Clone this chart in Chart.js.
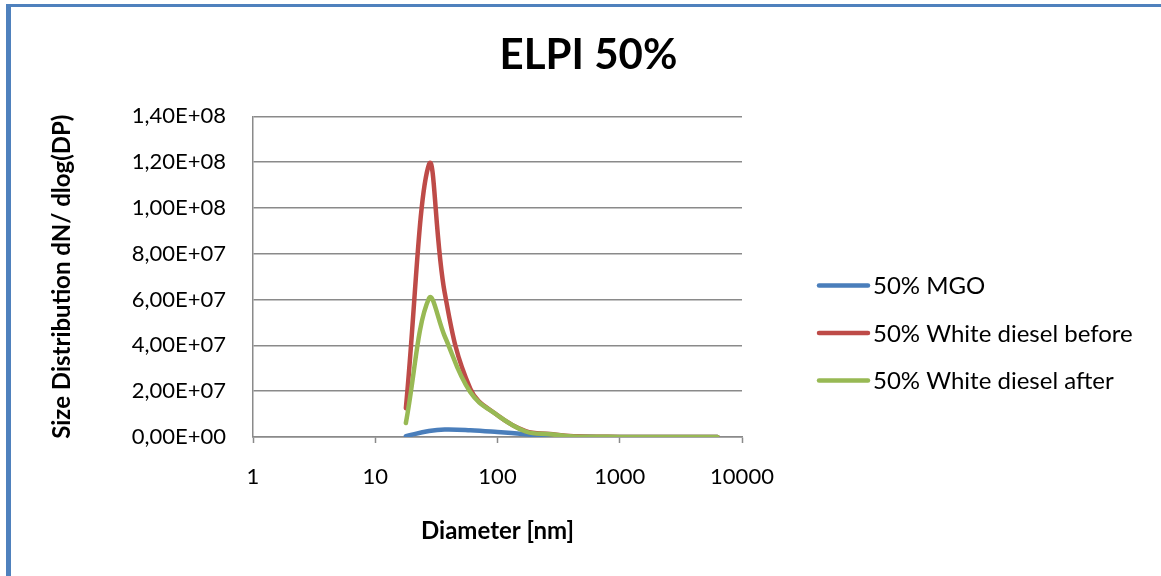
<!DOCTYPE html>
<html lang="en">

<head>
  <meta charset="UTF-8">
  <title>ELPI 50%</title>
  <script src="https://cdn.jsdelivr.net/npm/chart.js@4.4.1/dist/chart.umd.min.js"></script>
  <style>
    body {
      margin: 0;
      background: #fff;
    }

    .frame {
      position: relative;
      width: 1161px;
      height: 576px;
    }

    /* blue sheet border on the left and top */
    .frame .edge {
      position: absolute;
      left: 6px;
      top: 4px;
      right: 0;
      bottom: 0;
      border-left: 5px solid #4f81bd;
      border-top: 3px solid #4f81bd;
      pointer-events: none;
    }
  </style>
</head>

<body>
  <div class="frame">
    <canvas id="elpiChart" width="1161" height="576"></canvas>
    <div class="edge"></div>
  </div>

  <script>
    // particle diameter [nm]
    const diameters = [17.8, 27.5, 37, 60, 100, 170, 270, 420, 650, 1000, 1600, 2500, 4000, 6300];
    const seriesNames = ['50% MGO', '50% White diesel before', '50% White diesel after'];
    const mgo = [4e5, 2.6e6, 3.3e6, 3.0e6, 2.2e6, 1.2e6, 5e5, 1.5e5, 5e4, 2e4, 1e4, 5e3, 2e3, 1e3];
    const whiteBefore = [1.26e7, 1.19e8, 6.3e7, 2.1e7, 9.5e6, 2.6e6, 1.3e6, 3e5, 1e5, 5e4, 2e4, 1e4, 5e3, 2e3];
    const whiteAfter = [6.1e6, 6.05e7, 4.4e7, 1.95e7, 9.5e6, 2.4e6, 1.2e6, 2e5, 1e5, 5e4, 2e4, 1e4, 5e3, 2e3];
    const xTicks = [1, 10, 100, 1000, 10000];
    const colors = ['#4a7ebb', '#be4b48', '#98b954'];

    const gridGray = '#8a8a8a';

    // Excel-style scientific labels: 1,40E+08
    function sciLabel(v) {
      const parts = Number(v).toExponential(2).split('e');
      const e = parseInt(parts[1], 10);
      return parts[0].replace('.', ',') + 'E' + (e < 0 ? '-' : '+') + String(Math.abs(e)).padStart(2, '0');
    }

    // legend sits in its own box to the right of the plot
    const legendOpts = { width: 419, lineStart: 77, lineLen: 49, firstY: 169, step: 47.5, gap: 5, font: '24px Lato' };

    const sideLegend = {
      id: 'sideLegend',
      beforeInit(chart) {
        const box = {
          position: 'right',
          weight: 0,
          fullSize: false,
          options: {},
          left: 0, top: 0, right: 0, bottom: 0, width: 0, height: 0,
          isHorizontal() { return false; },
          update(maxWidth, maxHeight) {
            this.width = legendOpts.width;
            this.height = maxHeight;
          },
          draw() {
            const ctx = chart.ctx;
            ctx.save();
            ctx.font = legendOpts.font;
            ctx.textBaseline = 'middle';
            ctx.textAlign = 'left';
            chart.data.datasets.forEach((ds, i) => {
              const y = this.top + legendOpts.firstY + i * legendOpts.step;
              const x0 = this.left + legendOpts.lineStart;
              ctx.strokeStyle = ds.borderColor;
              ctx.lineWidth = ds.borderWidth;
              ctx.lineCap = 'round';
              ctx.beginPath();
              ctx.moveTo(x0, y);
              ctx.lineTo(x0 + legendOpts.lineLen, y);
              ctx.stroke();
              ctx.fillStyle = '#000';
              ctx.fillText(ds.label, x0 + legendOpts.lineLen + legendOpts.gap, y + 1);
            });
            ctx.restore();
          }
        };
        Chart.layouts.addBox(chart, box);
      }
    };

    Chart.defaults.font.family = 'Lato';
    Chart.defaults.color = '#000';

    const series = [mgo, whiteBefore, whiteAfter];

    new Chart(document.getElementById('elpiChart'), {
      type: 'line',
      data: {
        datasets: series.map((vals, i) => ({
          label: seriesNames[i],
          data: diameters.map((d, j) => ({ x: d, y: vals[j] })),
          borderColor: colors[i],
          backgroundColor: colors[i],
          borderWidth: 4.5,
          borderCapStyle: 'round',
          pointRadius: 0,
          tension: 0.4,
          order: 2 - i
        }))
      },
      options: {
        responsive: false,
        animation: false,
        layout: { padding: { left: 16, right: 0, top: 0, bottom: 0 } },
        plugins: {
          legend: { display: false },
          tooltip: { enabled: false },
          title: {
            display: true,
            text: 'ELPI 50%',
            color: '#000',
            font: { size: 42, weight: 'bold' },
            padding: { top: 30, bottom: 36 }
          }
        },
        scales: {
          x: {
            type: 'logarithmic',
            min: 1,
            max: 10000,
            afterBuildTicks: (s) => { s.ticks = xTicks.map(v => ({ value: v })); },
            afterFit: (s) => { s.height = 139; },
            ticks: {
              autoSkip: false,
              maxRotation: 0,
              padding: 21,
              font: { size: 22 },
              callback: (v) => String(v)
            },
            grid: {
              drawOnChartArea: false,
              drawTicks: true,
              tickLength: 6,
              tickColor: gridGray,
              tickWidth: 1.5
            },
            border: { color: gridGray, width: 1.5 },
            title: {
              display: true,
              text: 'Diameter [nm]',
              font: { size: 24, weight: 'bold' },
              padding: { top: 0, bottom: 30 }
            }
          },
          y: {
            min: 0,
            max: 1.4e8,
            afterFit: (s) => { s.width = 237; },
            ticks: {
              stepSize: 2e7,
              padding: 27,
              font: { size: 22 },
              callback: (v) => sciLabel(v)
            },
            grid: {
              color: gridGray,
              lineWidth: 1.5,
              drawTicks: false
            },
            border: { color: gridGray, width: 1.5 },
            title: {
              display: true,
              text: 'Size Distribution dN/ dlog(DP)',
              font: { size: 24, weight: 'bold' },
              padding: { top: 32, bottom: 0 }
            }
          }
        }
      },
      plugins: [sideLegend]
    });
  </script>
</body>

</html>
